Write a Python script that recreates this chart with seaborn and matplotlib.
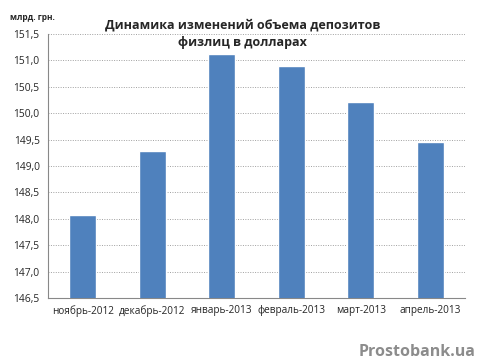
import matplotlib
matplotlib.use("Agg")
import matplotlib.pyplot as plt
import matplotlib.ticker as mticker
import numpy as np
import pandas as pd
import seaborn as sns

months = ["ноябрь-2012", "декабрь-2012", "январь-2013",
          "февраль-2013", "март-2013", "апрель-2013"]
deposits = [148.07, 149.28, 151.13, 150.90, 150.21, 149.46]
y_ticks = [146.5, 147.0, 147.5, 148.0, 148.5, 149.0, 149.5, 150.0, 150.5, 151.0, 151.5]

df = pd.DataFrame({"month": months, "value": deposits})

sns.set_style("white")
plt.rcParams['font.family'] = ['Open Sans', 'DejaVu Sans']

fig = plt.figure(figsize=(4.8, 3.64), dpi=100)
ax = fig.add_axes([0.1, 1 - 298 / 364, 0.869, 264 / 364])

sns.barplot(data=df, x="month", y="value", color="#4F81BD", width=0.39,
            saturation=1, ax=ax, zorder=3)

ax.set_ylim(146.5, 151.5)
ax.set_xlim(-0.5, len(months) - 0.5)
ax.set_yticks(y_ticks)
ax.yaxis.set_major_formatter(mticker.FuncFormatter(lambda v, p: f"{v:.1f}".replace(".", ",")))
ax.grid(axis="y", linestyle=(0, (1, 1.5)), color="#a0a0a0", linewidth=0.7, zorder=0)
ax.set_xlabel("")
ax.set_ylabel("")

# category separators as ticks on the x axis
ax.set_xticks(np.arange(len(months)))
ax.set_xticklabels(months)
ax.set_xticks(np.arange(-0.5, len(months), 1), minor=True)
ax.tick_params(axis="x", which="major", length=0, labelsize=7.2, pad=5)
ax.tick_params(axis="x", which="minor", length=4, color="#888888", direction="out")
ax.tick_params(axis="y", length=3, color="#888888", labelsize=7.4, direction="out", pad=3)

for side in ["top", "right"]:
    ax.spines[side].set_visible(False)
for side in ["left", "bottom"]:
    ax.spines[side].set_color("#888888")
    ax.spines[side].set_linewidth(0.8)

fig.text(0.505, 0.95, "Динамика изменений объема депозитов\nфизлиц в долларах",
         ha="center", va="top", fontsize=9, fontweight="bold", linespacing=1.45)
fig.text(0.02, 0.952, "млрд. грн.", ha="left", va="center", fontsize=6, fontweight="bold")
fig.text(0.99, 0.033, "Prostobank.ua", ha="right", va="center", fontsize=11.5,
         fontweight="bold", color="#8c8c8c")

fig.savefig("out.png", dpi=100)
